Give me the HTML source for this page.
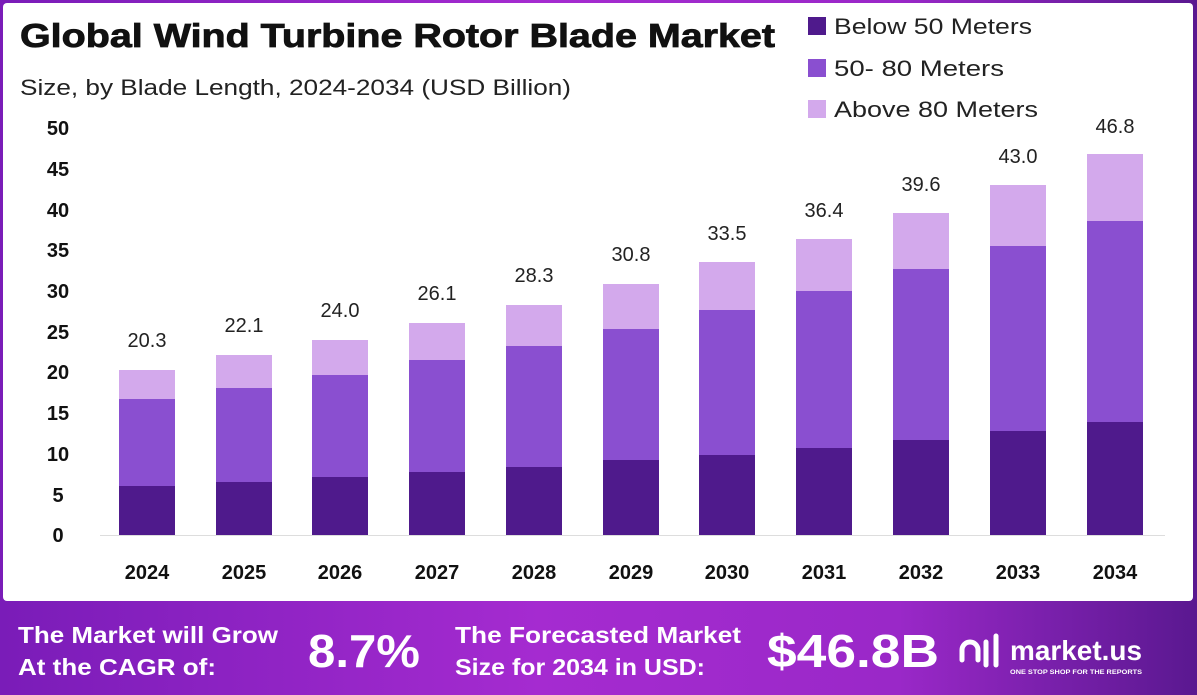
<!DOCTYPE html>
<html><head><meta charset="utf-8"><style>
html,body{margin:0;padding:0;background:#fff}
svg{display:block}
</style></head><body>
<svg width="1197" height="695" viewBox="0 0 1197 695" xmlns="http://www.w3.org/2000/svg" font-family="Liberation Sans, sans-serif">
<defs>
<linearGradient id="bg" x1="0" y1="0" x2="1" y2="0">
<stop offset="0" stop-color="#7a1cb8"/>
<stop offset="0.45" stop-color="#a52bd0"/>
<stop offset="0.75" stop-color="#9a28c8"/>
<stop offset="1" stop-color="#5a1890"/>
</linearGradient>
</defs>
<rect x="0" y="0" width="1197" height="695" fill="url(#bg)"/>
<rect x="3" y="3" width="1190" height="598" rx="4" fill="#fff"/>
<text x="20" y="47" font-size="33" font-weight="bold" fill="#111" stroke="#111" stroke-width="0.8" textLength="755" lengthAdjust="spacingAndGlyphs">Global Wind Turbine Rotor Blade Market</text>
<text x="20" y="95" font-size="22" fill="#222" textLength="551" lengthAdjust="spacingAndGlyphs">Size, by Blade Length, 2024-2034 (USD Billion)</text>
<g font-size="22" fill="#222">
<rect x="808" y="17" width="18" height="18" fill="#4f1a8c"/><text x="834" y="34" textLength="198" lengthAdjust="spacingAndGlyphs">Below 50 Meters</text>
<rect x="808" y="59" width="18" height="18" fill="#8a4fd0"/><text x="834" y="76" textLength="170" lengthAdjust="spacingAndGlyphs">50- 80 Meters</text>
<rect x="808" y="100" width="18" height="18" fill="#d3a9ec"/><text x="834" y="117" textLength="204" lengthAdjust="spacingAndGlyphs">Above 80 Meters</text>
</g>
<g font-size="20" font-weight="bold" fill="#111" text-anchor="middle">
<text x="58" y="135">50</text><text x="58" y="176">45</text><text x="58" y="217">40</text>
<text x="58" y="257">35</text><text x="58" y="298">30</text><text x="58" y="339">25</text>
<text x="58" y="379">20</text><text x="58" y="420">15</text><text x="58" y="461">10</text>
<text x="58" y="502">5</text><text x="58" y="542">0</text>
</g>
<line x1="100" y1="535.5" x2="1165" y2="535.5" stroke="#ddd" stroke-width="1"/>
<g font-size="20" font-weight="bold" fill="#111" text-anchor="middle">
<text x="147" y="579">2024</text><text x="244" y="579">2025</text><text x="340" y="579">2026</text>
<text x="437" y="579">2027</text><text x="534" y="579">2028</text><text x="631" y="579">2029</text>
<text x="727" y="579">2030</text><text x="824" y="579">2031</text><text x="921" y="579">2032</text>
<text x="1018" y="579">2033</text><text x="1115" y="579">2034</text>
</g>
<g fill="#4f1a8c">
<rect x="119" y="486" width="56" height="49"/><rect x="216" y="482" width="56" height="53"/>
<rect x="312" y="477" width="56" height="58"/><rect x="409" y="472" width="56" height="63"/>
<rect x="506" y="467" width="56" height="68"/><rect x="603" y="460" width="56" height="75"/>
<rect x="699" y="455" width="56" height="80"/><rect x="796" y="448" width="56" height="87"/>
<rect x="893" y="440" width="56" height="95"/><rect x="990" y="431" width="56" height="104"/>
<rect x="1087" y="422" width="56" height="113"/>
</g>
<g fill="#8a4fd0">
<rect x="119" y="399" width="56" height="87"/><rect x="216" y="388" width="56" height="94"/>
<rect x="312" y="375" width="56" height="102"/><rect x="409" y="360" width="56" height="112"/>
<rect x="506" y="346" width="56" height="121"/><rect x="603" y="329" width="56" height="131"/>
<rect x="699" y="310" width="56" height="145"/><rect x="796" y="291" width="56" height="157"/>
<rect x="893" y="269" width="56" height="171"/><rect x="990" y="246" width="56" height="185"/>
<rect x="1087" y="221" width="56" height="201"/>
</g>
<g fill="#d3a9ec">
<rect x="119" y="370" width="56" height="29"/><rect x="216" y="355" width="56" height="33"/>
<rect x="312" y="340" width="56" height="35"/><rect x="409" y="323" width="56" height="37"/>
<rect x="506" y="305" width="56" height="41"/><rect x="603" y="284" width="56" height="45"/>
<rect x="699" y="262" width="56" height="48"/><rect x="796" y="239" width="56" height="52"/>
<rect x="893" y="213" width="56" height="56"/><rect x="990" y="185" width="56" height="61"/>
<rect x="1087" y="154" width="56" height="67"/>
</g>
<g font-size="20" fill="#222" text-anchor="middle">
<text x="147" y="347">20.3</text><text x="244" y="332">22.1</text><text x="340" y="317">24.0</text>
<text x="437" y="300">26.1</text><text x="534" y="282">28.3</text><text x="631" y="261">30.8</text>
<text x="727" y="240">33.5</text><text x="824" y="217">36.4</text><text x="921" y="191">39.6</text>
<text x="1018" y="163">43.0</text><text x="1115" y="133">46.8</text>
</g>
<g fill="#fff" font-weight="bold">
<text x="18" y="643" font-size="23" textLength="260" lengthAdjust="spacingAndGlyphs">The Market will Grow</text>
<text x="18" y="675" font-size="23" textLength="198" lengthAdjust="spacingAndGlyphs">At the CAGR of:</text>
<text x="308" y="667" font-size="46" textLength="112" lengthAdjust="spacingAndGlyphs">8.7%</text>
<text x="455" y="643" font-size="23" textLength="286" lengthAdjust="spacingAndGlyphs">The Forecasted Market</text>
<text x="455" y="675" font-size="23" textLength="250" lengthAdjust="spacingAndGlyphs">Size for 2034 in USD:</text>
<text x="767" y="667" font-size="46" textLength="172" lengthAdjust="spacingAndGlyphs">$46.8B</text>
<text x="1010" y="660" font-size="28" textLength="132" lengthAdjust="spacingAndGlyphs">market.us</text>
<text x="1010" y="674" font-size="6" textLength="132" lengthAdjust="spacingAndGlyphs">ONE STOP SHOP FOR THE REPORTS</text>
</g>
<g fill="none" stroke="#fff" stroke-width="5" stroke-linecap="round">
<path d="M962 660 v-10 a8 8 0 0 1 16 0 v10"/>
<line x1="986" y1="642" x2="986" y2="665"/>
<line x1="996" y1="636" x2="996" y2="665"/>
</g>
</svg>
</body></html>
